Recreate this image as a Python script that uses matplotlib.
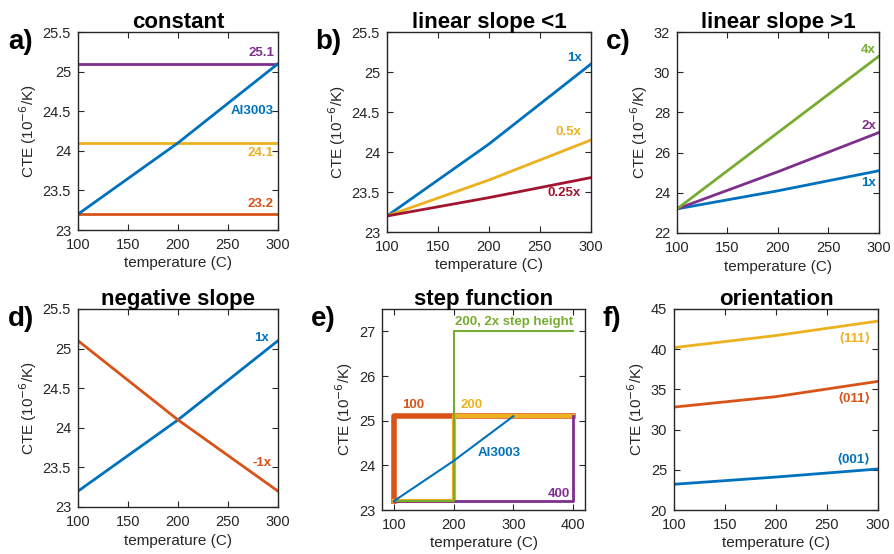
import numpy as np
import matplotlib
matplotlib.use("Agg")
import matplotlib.pyplot as plt

plt.rcParams['font.family'] = ['Liberation Sans', 'DejaVu Sans']
plt.rcParams['axes.edgecolor'] = '#262626'
plt.rcParams['xtick.color'] = '#262626'
plt.rcParams['ytick.color'] = '#262626'

#%% ------------------------- donnees ------------------------- #
temp = [100, 200, 300]
al3003 = [23.2, 24.1, 25.1]

# a) constant
const_hi = [25.1, 25.1, 25.1]
const_mid = [24.1, 24.1, 24.1]
const_lo = [23.2, 23.2, 23.2]

# b) slope < 1
slope_05 = [23.2, 23.65, 24.15]
slope_025 = [23.2, 23.43, 23.68]

# c) slope > 1
slope_2 = [23.2, 25.05, 27.0]
slope_4 = [23.2, 27.0, 30.8]

# d) negative slope
slope_neg = [25.1, 24.1, 23.2]

# e) step function
al3003_e_T = [100, 200, 300]
step100_T = [100, 100, 400]
step100_y = [23.2, 25.1, 25.1]
step200_T = [100, 200, 200, 400]
step200_y = [23.2, 23.2, 25.1, 25.1]
step200x2_T = [100, 200, 200, 400]
step200x2_y = [23.2, 23.2, 27.0, 27.0]
step400_T = [100, 400, 400]
step400_y = [23.2, 23.2, 25.1]

# f) orientation
or_001 = [23.2, 24.1, 25.1]
or_011 = [32.8, 34.1, 36.0]
or_111 = [40.2, 41.7, 43.5]

blue = '#0072BD'
red = '#D95319'
yellow = '#EDB120'
purple = '#7E2F8E'
green = '#77AC30'
darkred = '#A2142F'

#%% ------------------------- figure ------------------------- #
W, H = 895, 554
fig = plt.figure(figsize=(W/100, H/100), dpi=100)

def make_ax(l, r, t, b):
    return fig.add_axes([l/W, (H-b)/H, (r-l)/W, (b-t)/H])

def style(ax, title, letter, xlim, ylim, xticks, yticks):
    ax.set_xlim(xlim)
    ax.set_ylim(ylim)
    ax.set_xticks(xticks)
    ax.set_yticks(yticks)
    ax.set_yticklabels([('%g' % v) for v in yticks])
    ax.tick_params(direction='in', top=True, right=True, length=4, width=0.8, labelsize=10.5)
    ax.tick_params(axis='x', pad=6)
    ax.tick_params(axis='y', pad=5)
    for s in ax.spines.values():
        s.set_linewidth(1.0)
    ax.set_xlabel('temperature (C)', fontsize=11, color='#262626', labelpad=3)
    ax.set_ylabel('CTE (10$^{-6}$/K)', fontsize=11, color='#262626', labelpad=3)
    ax.set_title(title, fontsize=16, fontweight='bold', pad=3)
    ax.text(-0.35, 0.95, letter, transform=ax.transAxes, fontsize=20, fontweight='bold',
            ha='left', va='center')

def lab(ax, x, y, s, c, ha='right'):
    ax.text(x, y, s, color=c, fontsize=9.5, fontweight='bold', ha=ha, va='center')

lw = 2.0

# a)
ax = make_ax(78, 278, 32, 230)
ax.plot(temp, const_hi, color=purple, lw=lw)
ax.plot(temp, const_mid, color=yellow, lw=lw)
ax.plot(temp, const_lo, color=red, lw=lw)
ax.plot(temp, al3003, color=blue, lw=lw)
style(ax, 'constant', 'a)', (100, 300), (23, 25.5), [100, 150, 200, 250, 300],
      [23, 23.5, 24, 24.5, 25, 25.5])
lab(ax, 296, 25.23, '25.1', purple)
lab(ax, 296, 24.5, 'Al3003', blue)
lab(ax, 296, 23.97, '24.1', yellow)
lab(ax, 296, 23.33, '23.2', red)

# b)
ax = make_ax(387, 591, 32, 232)
ax.plot(temp, al3003, color=blue, lw=lw)
ax.plot(temp, slope_05, color=yellow, lw=lw)
ax.plot(temp, slope_025, color=darkred, lw=lw)
style(ax, 'linear slope <1', 'b)', (100, 300), (23, 25.5), [100, 150, 200, 250, 300],
      [23, 23.5, 24, 24.5, 25, 25.5])
lab(ax, 291, 25.17, '1x', blue)
lab(ax, 291, 24.25, '0.5x', yellow)
lab(ax, 290, 23.49, '0.25x', darkred)

# c)
ax = make_ax(677, 879, 32, 233)
ax.plot(temp, al3003, color=blue, lw=lw)
ax.plot(temp, slope_2, color=purple, lw=lw)
ax.plot(temp, slope_4, color=green, lw=lw)
style(ax, 'linear slope >1', 'c)', (100, 300), (22, 32), [100, 150, 200, 250, 300],
      [22, 24, 26, 28, 30, 32])
lab(ax, 297, 31.1, '4x', green)
lab(ax, 297, 27.3, '2x', purple)
lab(ax, 297, 24.5, '1x', blue)

# d)
ax = make_ax(78, 278, 309, 507)
ax.plot(temp, al3003, color=blue, lw=lw)
ax.plot(temp, slope_neg, color=red, lw=lw)
style(ax, 'negative slope', 'd)', (100, 300), (23, 25.5), [100, 150, 200, 250, 300],
      [23, 23.5, 24, 24.5, 25, 25.5])
lab(ax, 291, 25.13, '1x', blue)
lab(ax, 294, 23.55, '-1x', red)

# e)
ax = make_ax(382, 585, 309, 510)
ax.plot(step100_T, step100_y, color=red, lw=4)
ax.plot(step200_T, step200_y, color=yellow, lw=3)
ax.plot(step400_T, step400_y, color=purple, lw=2)
ax.plot(step200x2_T, step200x2_y, color=green, lw=1.5)
ax.plot(al3003_e_T, al3003, color=blue, lw=1.5)
style(ax, 'step function', 'e)', (80, 420), (23, 27.5), [100, 200, 300, 400],
      [23, 24, 25, 26, 27])
lab(ax, 202, 27.22, '200, 2x step height', green, ha='left')
lab(ax, 114, 25.34, '100', red, ha='left')
lab(ax, 212, 25.34, '200', yellow, ha='left')
lab(ax, 241, 24.27, 'Al3003', blue, ha='left')
lab(ax, 395, 23.36, '400', purple)

# f)
ax = make_ax(674, 878, 309, 510)
ax.plot(temp, or_001, color=blue, lw=lw)
ax.plot(temp, or_011, color=red, lw=lw)
ax.plot(temp, or_111, color=yellow, lw=lw)
style(ax, 'orientation', 'f)', (100, 300), (20, 45), [100, 150, 200, 250, 300],
      [20, 25, 30, 35, 40, 45])
lab(ax, 293, 41.3, '\u27e8111\u27e9', yellow)
lab(ax, 293, 33.9, '\u27e8011\u27e9', red)
lab(ax, 293, 26.3, '\u27e8001\u27e9', blue)

fig.savefig('out.png', dpi=100)
